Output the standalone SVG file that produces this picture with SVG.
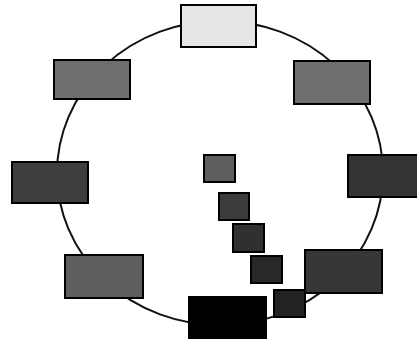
<svg xmlns="http://www.w3.org/2000/svg" width="417" height="340" viewBox="0 0 417 340">
<style>
.n{stroke:#000;stroke-width:2}
.c{fill:none;stroke:#111;stroke-width:2}
</style>
<rect width="417" height="340" fill="#fff"/>
<g id="connectors">
<ellipse class="c" cx="220" cy="173" rx="163" ry="152"/>
</g>
<g id="n-top"><rect class="n" x="181" y="5" width="75" height="42" fill="#e6e6e6"/></g>
<g id="n-upper-left"><rect class="n" x="54" y="60" width="76" height="39" fill="#6e6e6e"/></g>
<g id="n-upper-right"><rect class="n" x="294" y="61" width="76" height="43" fill="#6e6e6e"/></g>
<g id="n-left"><rect class="n" x="12" y="162" width="76" height="41" fill="#3e3e3e"/></g>
<g id="n-right"><rect class="n" x="348" y="155" width="70" height="42" fill="#333"/></g>
<g id="n-lower-left"><rect class="n" x="65" y="255" width="78" height="43" fill="#5e5e5e"/></g>
<g id="n-lower-right"><rect class="n" x="305" y="250" width="77" height="43" fill="#363636"/></g>
<g id="n-bottom"><rect class="n" x="189" y="297" width="77" height="41" fill="#000"/></g>
<g id="n-s1"><rect class="n" x="204" y="155" width="31" height="27" fill="#5e5e5e"/></g>
<g id="n-s2"><rect class="n" x="219" y="193" width="30" height="27" fill="#3c3c3c"/></g>
<g id="n-s3"><rect class="n" x="233" y="224" width="31" height="28" fill="#303030"/></g>
<g id="n-s4"><rect class="n" x="251" y="256" width="31" height="27" fill="#282828"/></g>
<g id="n-s5"><rect class="n" x="274" y="290" width="31" height="27" fill="#222"/></g>
</svg>
